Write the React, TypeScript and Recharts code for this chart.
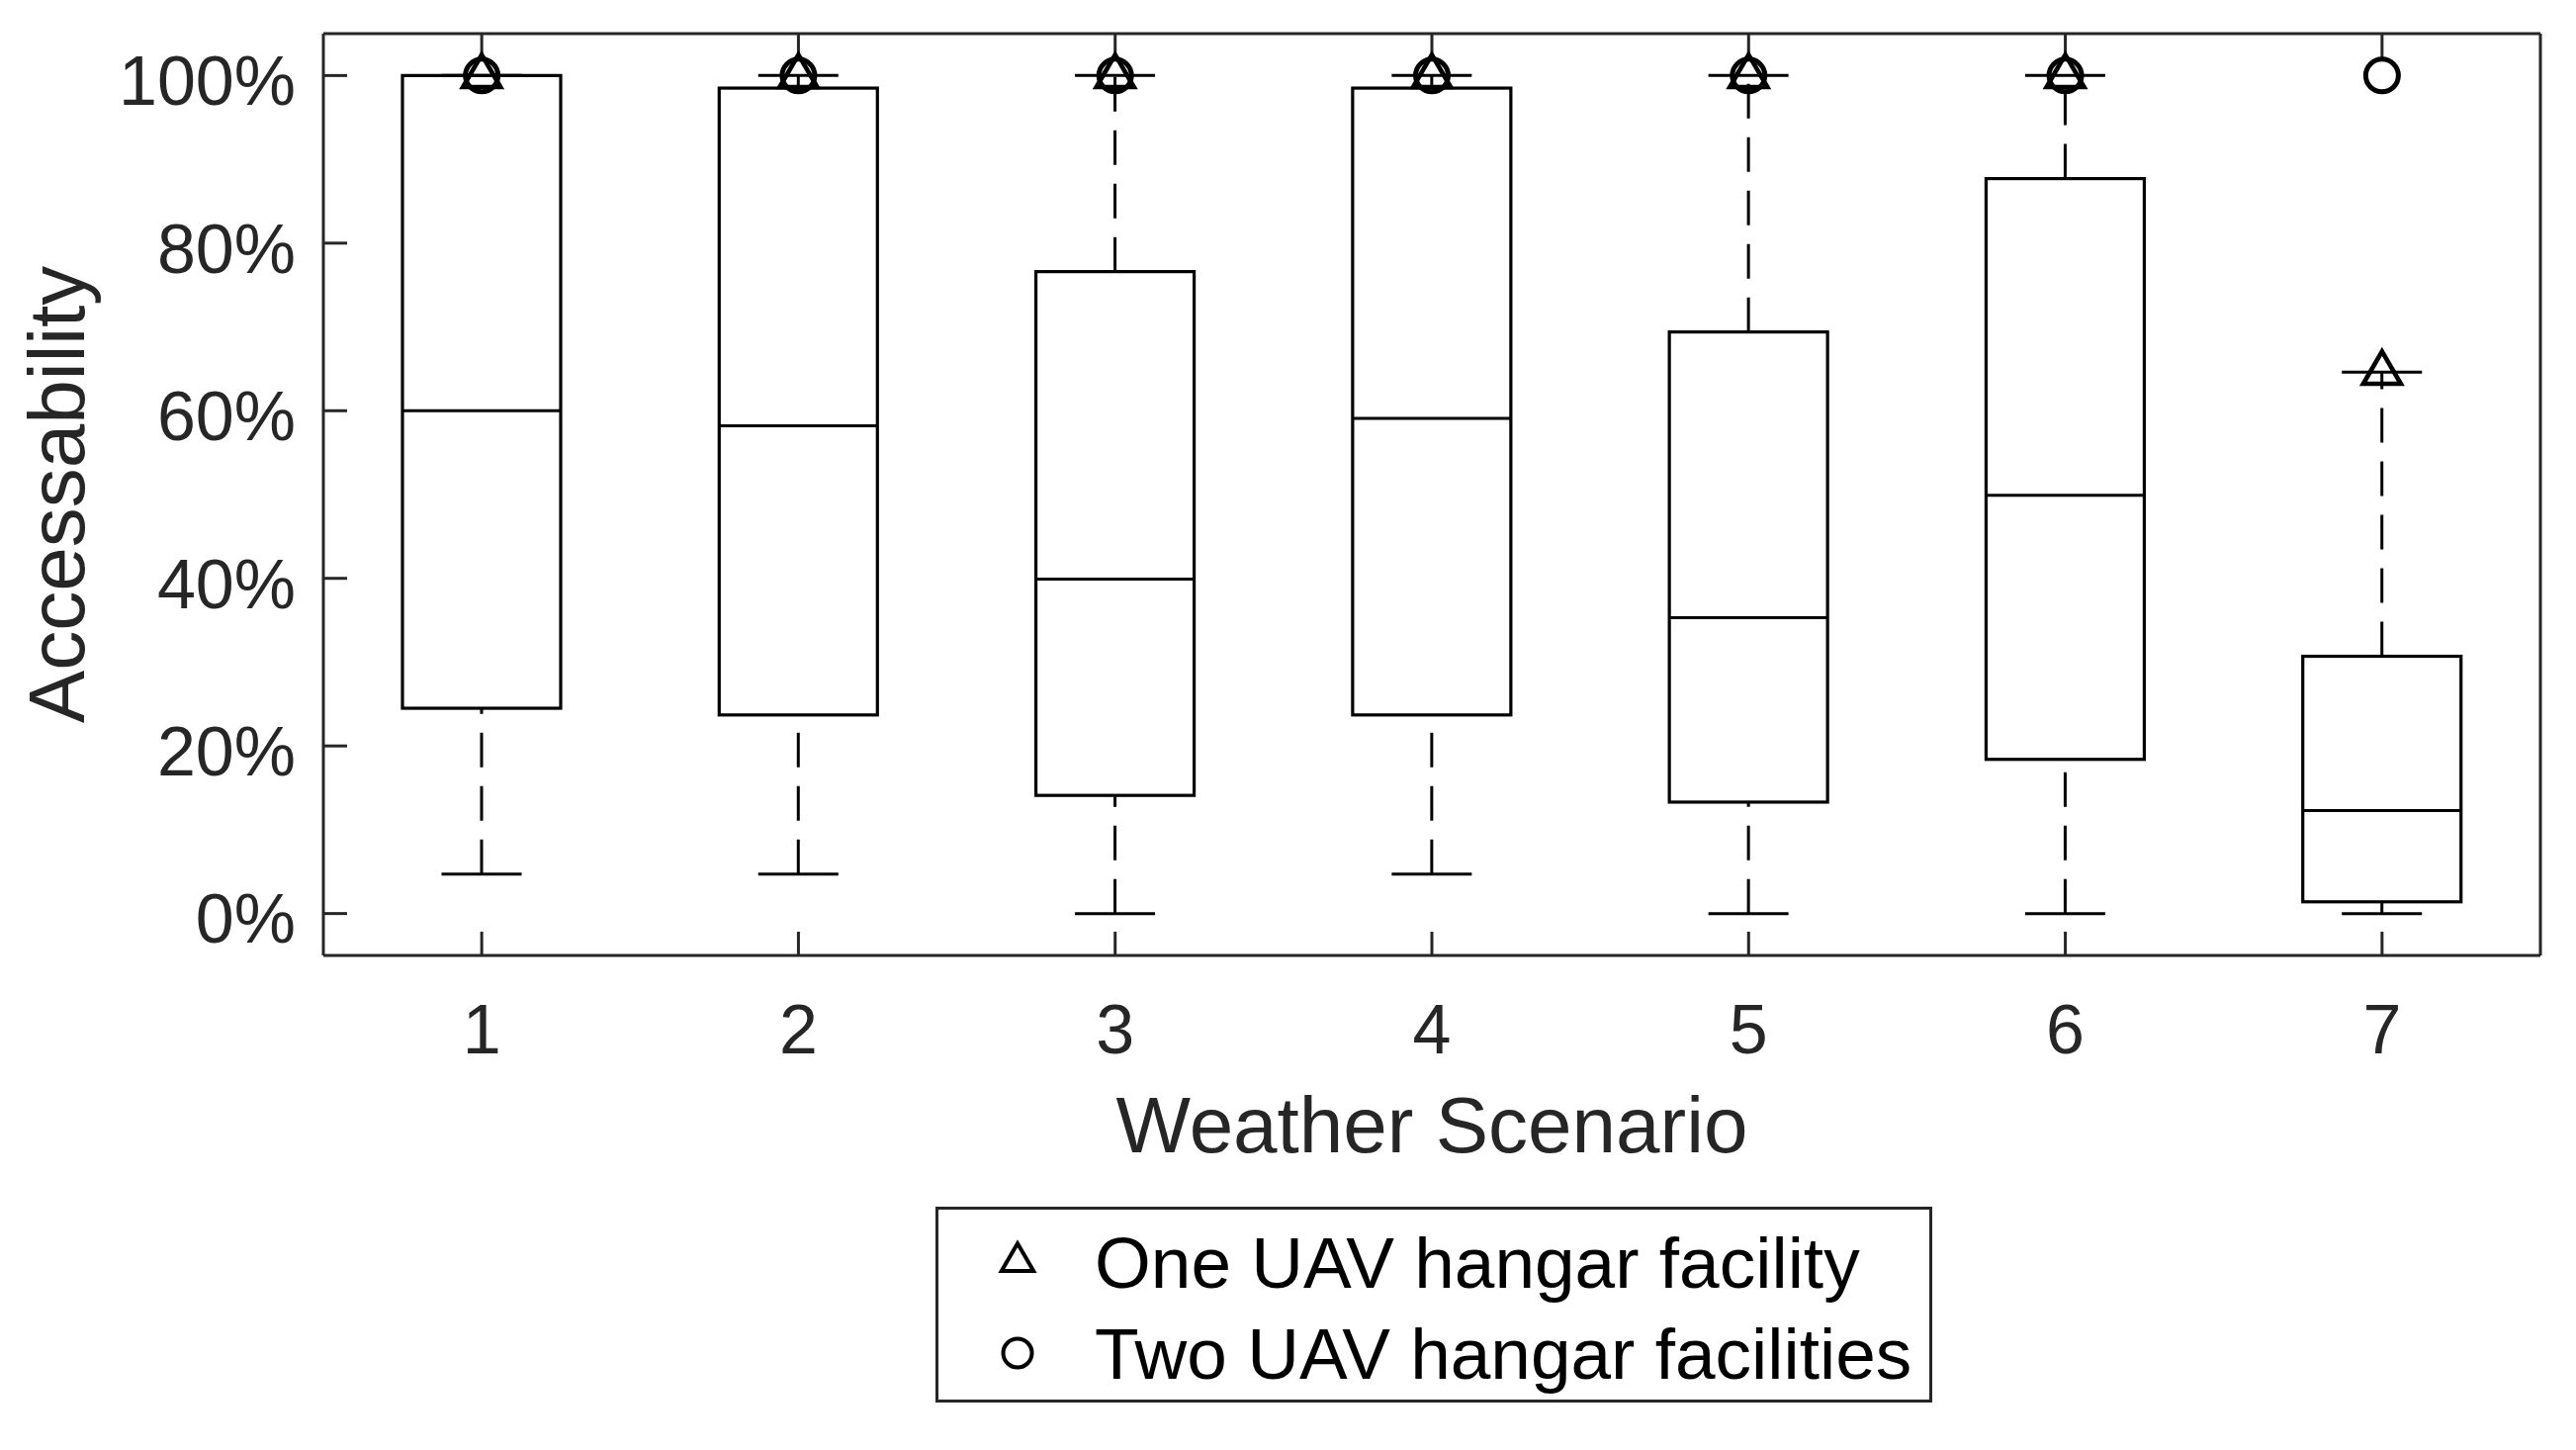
import React from 'react';
import { ComposedChart, Bar, Line, XAxis, YAxis, Label } from 'recharts';

const scenarios = ['1', '2', '3', '4', '5', '6', '7'];
const lowWhisker = [4.7, 4.7, 0, 4.7, 0, 0, 0];
const q1 = [24.5, 23.7, 14.1, 23.7, 13.3, 18.4, 1.4];
const median = [60, 58.2, 39.9, 59.1, 35.3, 49.9, 12.3];
const q3 = [100, 98.5, 76.6, 98.5, 69.4, 87.7, 30.7];
const highWhisker = [100, 100, 100, 100, 100, 100, 64.6];
const oneHangar = [100, 100, 100, 100, 100, 100, 64.6];
const twoHangars = [100, 100, 100, 100, 100, 100, 100];
const yTicks = [0, 20, 40, 60, 80, 100];
const legendItems = ['One UAV hangar facility', 'Two UAV hangar facilities'];

const rows = scenarios.map((scenario, i) => ({
  scenario,
  low: lowWhisker[i],
  q1: q1[i],
  median: median[i],
  q3: q3[i],
  high: highWhisker[i],
  one: oneHangar[i],
  two: twoHangars[i],
}));

const INK = '#262626';
const FONT = '"Liberation Sans", Arial, sans-serif';

function BoxShape(props: any) {
  const { x, y, width, height, payload } = props;
  const perUnit = height / (payload.q3 - payload.q1);
  const py = (v: number) => y + (payload.q3 - v) * perUnit;
  const cx = x + width / 2;
  const capHalf = 40.5;
  return (
    <g fill="none" stroke="#000">
      <line x1={cx} x2={cx} y1={py(payload.low)} y2={py(payload.q1)} strokeWidth={3} strokeDasharray="35 19" />
      {payload.high > payload.q3 ? (
        <line x1={cx} x2={cx} y1={py(payload.q3)} y2={py(payload.high)} strokeWidth={3} strokeDasharray="35 19" />
      ) : null}
      <line x1={cx - capHalf} x2={cx + capHalf} y1={py(payload.low)} y2={py(payload.low)} strokeWidth={3} />
      <line x1={cx - capHalf} x2={cx + capHalf} y1={py(payload.high)} y2={py(payload.high)} strokeWidth={3} />
      <rect x={x} y={y} width={width} height={height} strokeWidth={3.2} />
      <line x1={x} x2={x + width} y1={py(payload.median)} y2={py(payload.median)} strokeWidth={3} />
    </g>
  );
}

function Triangle(props: any) {
  const { cx, cy, small } = props;
  if (cx == null || cy == null) return null;
  const k = small ? 0.85 : 1;
  return (
    <path
      d={`M${cx} ${cy - 21 * k}L${cx + 19 * k} ${cy + 11.7 * k}L${cx - 19 * k} ${cy + 11.7 * k}Z`}
      fill="none"
      stroke="#000"
      strokeWidth={small ? 4 : 4.6}
    />
  );
}

function Circle(props: any) {
  const { cx, cy, small } = props;
  if (cx == null || cy == null) return null;
  return <circle cx={cx} cy={cy} r={small ? 14.5 : 16.5} fill="none" stroke="#000" strokeWidth={small ? 4 : 5} />;
}

export default function App() {
  return (
    <div style={{ position: 'absolute', left: 0, top: 0, width: 2605, height: 1466, background: '#fff' }}>
      <ComposedChart
        width={2605}
        height={1466}
        data={rows}
        margin={{ top: 0, right: 0, bottom: 0, left: 0 }}
        style={{ fontFamily: FONT }}
      >
        <XAxis
          dataKey="scenario"
          height={500}
          interval={0}
          axisLine={{ stroke: INK, strokeWidth: 3 }}
          tickLine={{ stroke: INK, strokeWidth: 3 }}
          tickSize={-24}
          tickMargin={73}
          tick={{ fill: INK, fontSize: 70 }}
        >
          <Label value="Weather Scenario" position="insideTop" offset={142} fill={INK} fontSize={80} />
        </XAxis>
        <XAxis
          xAxisId="top"
          orientation="top"
          dataKey="scenario"
          height={34}
          interval={0}
          axisLine={{ stroke: INK, strokeWidth: 3 }}
          tickLine={{ stroke: INK, strokeWidth: 3 }}
          tickSize={-24}
          tickFormatter={() => ''}
        />
        <YAxis
          type="number"
          width={327}
          domain={[-5, 105]}
          ticks={yTicks}
          interval={0}
          axisLine={{ stroke: INK, strokeWidth: 3 }}
          tickLine={{ stroke: INK, strokeWidth: 3 }}
          tickSize={-24}
          tickMargin={52}
          tick={{ fill: INK, fontSize: 70, dy: 5 }}
          tickFormatter={(v: number) => `${v}%`}
        >
          <Label value="Accessability" angle={-90} position="insideLeft" offset={57} fill={INK} fontSize={80} style={{ textAnchor: 'middle' }} />
        </YAxis>
        <YAxis
          yAxisId="right"
          orientation="right"
          type="number"
          width={36}
          domain={[-5, 105]}
          ticks={yTicks}
          interval={0}
          axisLine={{ stroke: INK, strokeWidth: 3 }}
          tickLine={{ stroke: INK, strokeWidth: 3 }}
          tickSize={-24}
          tickFormatter={() => ''}
        />
        <Bar dataKey={(d: any) => [d.q1, d.q3]} barSize={160} shape={BoxShape} isAnimationActive={false} />
        <Line dataKey="one" stroke="none" dot={Triangle} activeDot={false} isAnimationActive={false} />
        <Line dataKey="two" stroke="none" dot={Circle} activeDot={false} isAnimationActive={false} />
      </ComposedChart>
      <div
        style={{
          position: 'absolute',
          left: 946,
          top: 1220,
          width: 1008,
          height: 198,
          boxSizing: 'border-box',
          border: `3px solid ${INK}`,
          fontFamily: FONT,
          fontSize: 73,
          color: '#000',
        }}
      >
        {legendItems.map((name, i) => (
          <div key={name} style={{ position: 'absolute', left: 158, top: i === 0 ? 12 : 104, lineHeight: '84px', whiteSpace: 'nowrap' }}>
            {name}
          </div>
        ))}
        <svg style={{ position: 'absolute', left: 0, top: 0 }} width={150} height={190}>
          <Triangle cx={80} cy={52} small />
          <Circle cx={80} cy={145} small />
        </svg>
      </div>
    </div>
  );
}
